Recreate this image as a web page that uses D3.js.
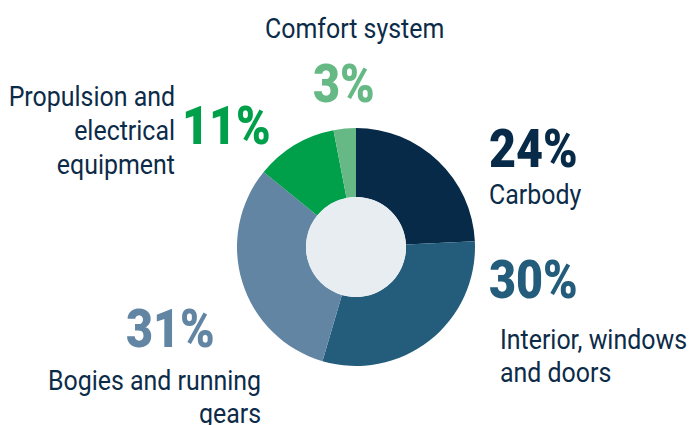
<!DOCTYPE html>
<html>
<head>
<meta charset="utf-8">
<script src="https://cdn.jsdelivr.net/npm/d3@7"></script>
<style>
  html, body { margin: 0; padding: 0; background: #ffffff; }
  svg { display: block; }
  .lbl { font-family: Roboto, "Liberation Sans", sans-serif; fill: #0c2b48; }
  .pct { font-family: Roboto, "Liberation Sans", sans-serif; font-weight: 900; }
</style>
</head>
<body>
<svg id="chart" width="697" height="425"></svg>
<script>
// Share of train components (percent), clockwise from 12 o'clock
const categories = ["Carbody", "Interior, windows and doors", "Bogies and running gears",
                    "Propulsion and electrical equipment", "Comfort system"];
const shares = [24, 30, 31, 11, 3];
const labelLines = [["Carbody"], ["Interior, windows", "and doors"], ["Bogies and running", "gears"],
                    ["Propulsion and", "electrical", "equipment"], ["Comfort system"]];
const sliceColors = ["#062a47", "#245d7c", "#6185a2", "#00a04b", "#66b985"];

// Where each category's percentage and name are placed
const layout = {
  "Carbody":                             { px: 489, py: 167, pa: "start", lx: 489, ly: 204, la: "start", lh: 33 },
  "Interior, windows and doors":         { px: 489, py: 298, pa: "start", lx: 500, ly: 349, la: "start", lh: 33 },
  "Bogies and running gears":            { px: 126, py: 347, pa: "start", lx: 261, ly: 390, la: "end",   lh: 33 },
  "Propulsion and electrical equipment": { px: 182, py: 144, pa: "start", lx: 175, ly: 106, la: "end",   lh: 34 },
  "Comfort system":                      { px: 313, py: 102, pa: "start", lx: 265, ly: 38,  la: "start", lh: 33 }
};
const nameSize = 28, nameStretch = 0.89;
const pctSize = 53, pctStretch = 0.88;

const cx = 356, cy = 247, outerR = 119, innerR = 50;
const svg = d3.select("#chart");

const data = categories.map((c, i) => ({ name: c, value: shares[i], color: sliceColors[i], lines: labelLines[i] }));

const pie = d3.pie().value(d => d.value).sort(null);
const arc = d3.arc().innerRadius(innerR).outerRadius(outerR);

const g = svg.append("g").attr("transform", `translate(${cx},${cy})`);
g.selectAll("path.slice")
  .data(pie(data))
  .join("path")
  .attr("class", "slice")
  .attr("d", arc)
  .attr("fill", d => d.data.color);

// pale hub in the middle of the ring
g.append("circle").attr("r", innerR).attr("fill", "#e8edf1");

// percentage figures (narrowed horizontally)
svg.selectAll("text.pct")
  .data(data)
  .join("text")
  .attr("class", "pct")
  .attr("transform", d => `translate(${layout[d.name].px},${layout[d.name].py}) scale(${pctStretch},1)`)
  .attr("text-anchor", d => layout[d.name].pa)
  .attr("font-size", pctSize)
  .attr("fill", d => d.color)
  .text(d => d3.format("d")(d.value) + "%");

// category names, one line per row
const names = svg.selectAll("g.lbl")
  .data(data)
  .join("g")
  .attr("class", "lbl")
  .attr("transform", d => `translate(${layout[d.name].lx},${layout[d.name].ly})`);

names.selectAll("text")
  .data(d => d.lines.map((t, i) => ({ t, i, L: layout[d.name] })))
  .join("text")
  .attr("class", "lbl")
  .attr("transform", d => `translate(0,${d.i * d.L.lh}) scale(${nameStretch},1)`)
  .attr("text-anchor", d => d.L.la)
  .attr("font-size", nameSize)
  .text(d => d.t);
</script>
</body>
</html>
